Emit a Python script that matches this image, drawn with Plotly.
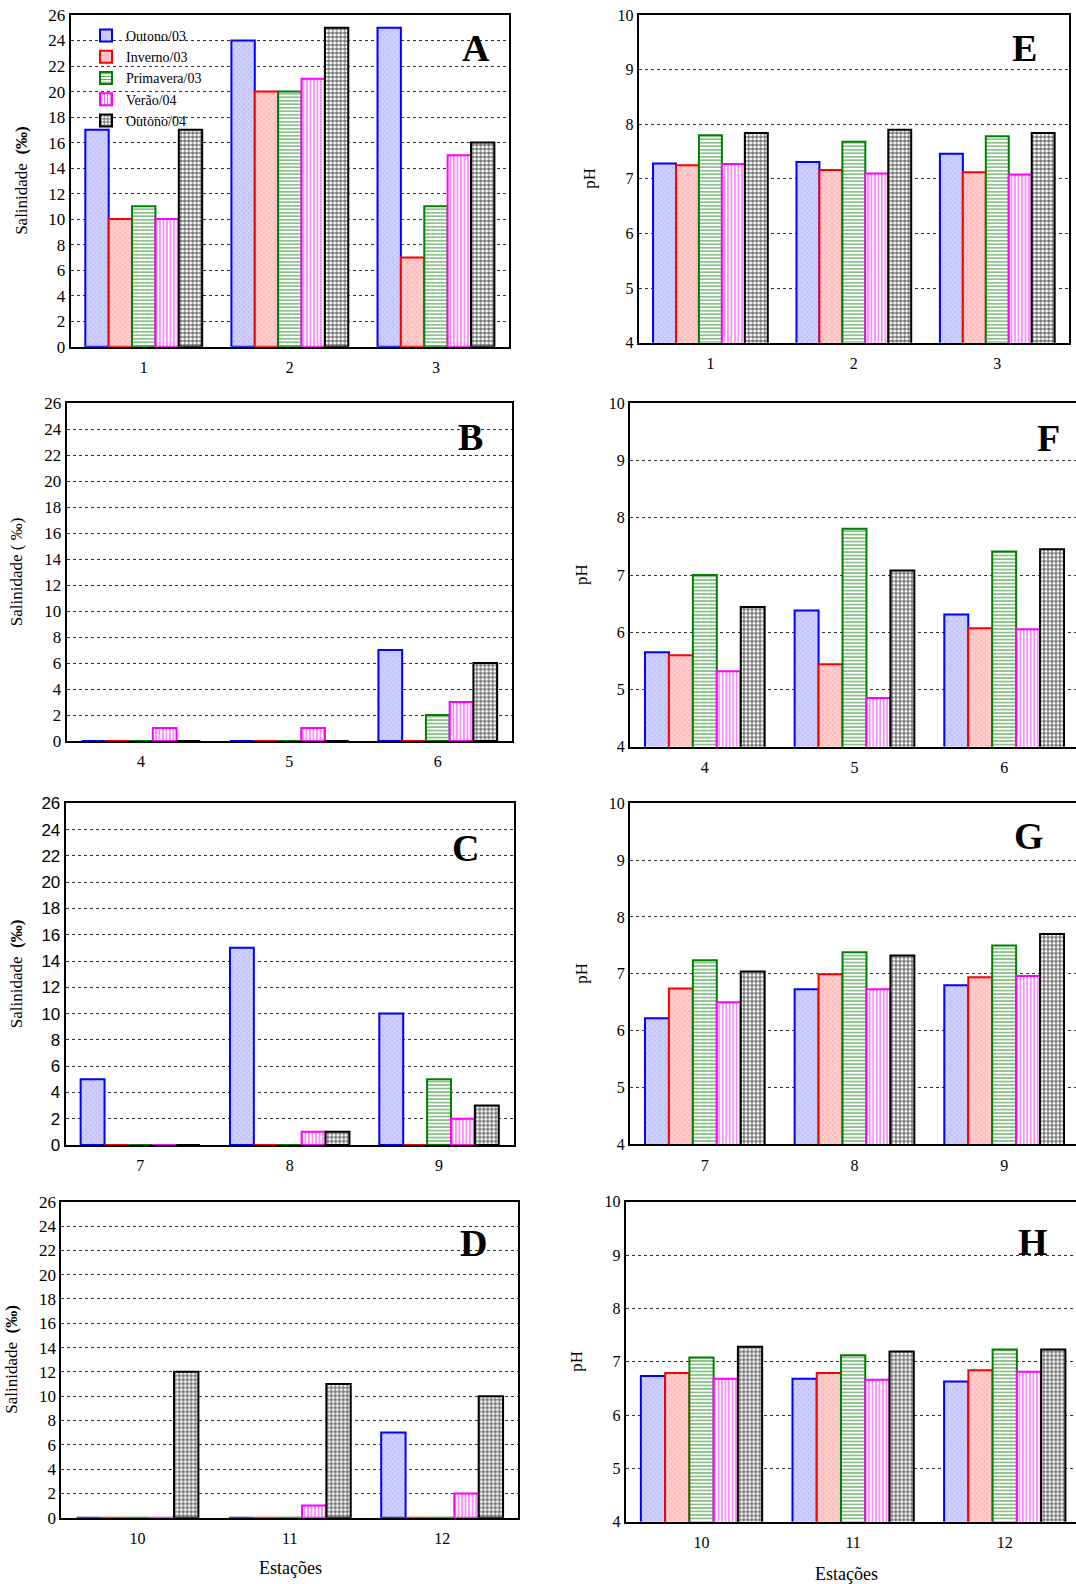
import plotly.graph_objects as go

seasons = ["Outono/03", "Inverno/03", "Primavera/03", "Verão/04", "Outono/04"]

st_A = ["1", "2", "3"]
st_B = ["4", "5", "6"]
st_C = ["7", "8", "9"]
st_D = ["10", "11", "12"]

# Salinity (‰), one list per season (order as `seasons`)
sal_A = [[17, 24, 25], [10, 20, 7], [11, 20, 11], [10, 21, 15], [17, 25, 16]]
sal_B = [[0, 0, 7], [0, 0, 0], [0, 0, 2], [1, 1, 3], [0, 0, 6]]
sal_C = [[5, 15, 10], [0, 0, 0], [0, 0, 5], [0, 1, 2], [0, 1, 3]]
sal_D = [[0, 0, 7], [0, 0, 0], [0, 0, 0], [0, 1, 2], [12, 11, 10]]

# pH
ph_E = [[7.28, 7.31, 7.46], [7.25, 7.16, 7.12], [7.80, 7.68, 7.78], [7.27, 7.10, 7.08], [7.84, 7.90, 7.84]]
ph_F = [[5.65, 6.38, 6.31], [5.60, 5.44, 6.07], [7.00, 7.81, 7.41], [5.32, 4.85, 6.05], [6.44, 7.08, 7.45]]
ph_G = [[6.22, 6.73, 6.80], [6.74, 6.99, 6.94], [7.24, 7.38, 7.50], [6.50, 6.73, 6.96], [7.04, 7.32, 7.70]]
ph_H = [[6.73, 6.68, 6.63], [6.79, 6.79, 6.84], [7.08, 7.12, 7.23], [6.68, 6.66, 6.81], [7.28, 7.19, 7.23]]

sal_ticks = list(range(0, 27, 2))
ph_ticks = list(range(4, 11))

styles = [
    dict(line="#0000ff", shape="x", fg="#a8a8ff", bg="#d2d2ff", size=3.5, sol=0.25),
    dict(line="#ff0000", shape="x", fg="#ff9a9a", bg="#ffd0d0", size=3.5, sol=0.25),
    dict(line="#008000", shape="-", fg="#3a9a3a", bg="#ffffff", size=3.5, sol=0.3),
    dict(line="#ff00ff", shape="|", fg="#ff40ff", bg="#ffffff", size=3.5, sol=0.3),
    dict(line="#000000", shape="+", fg="#202020", bg="#ffffff", size=4, sol=0.35),
]

W, H = 1076, 1584
SERIF = "Liberation Serif"

panels = [
    dict(letter="A", st=st_A, data=sal_A, kind="sal", x0=70.7, x1=509, t=15, b=346.7, xmax=2.5, lx=476, ly=48, tf=SERIF, ttl_x=22, ttl="Salinidade  <b>(‰)</b>"),
    dict(letter="E", st=st_A, data=ph_E, kind="ph", x0=638.7, x1=1069, t=15, b=342.7, xmax=2.5, lx=1024, ly=48, tf=SERIF, ttl_x=590, ttl="pH"),
    dict(letter="B", st=st_B, data=sal_B, kind="sal", x0=66.7, x1=512, t=403.3, b=741, xmax=2.5, lx=470, ly=437, tf=SERIF, ttl_x=16, ttl="Salinidade ( ‰)"),
    dict(letter="F", st=st_B, data=ph_F, kind="ph", x0=630, x1=1076, t=403.3, b=746.7, xmax=2.48, lx=1048, ly=438, tf=SERIF, ttl_x=581, ttl="pH"),
    dict(letter="C", st=st_C, data=sal_C, kind="sal", x0=65.7, x1=513.7, t=803.3, b=1145, xmax=2.5, lx=465, ly=848, tf="Liberation Sans", ttl_x=16, ttl="Salinidade  <b>(‰)</b>"),
    dict(letter="G", st=st_C, data=ph_G, kind="ph", x0=630, x1=1076, t=803.3, b=1144.3, xmax=2.48, lx=1029, ly=836, tf=SERIF, ttl_x=582, ttl="pH"),
    dict(letter="D", st=st_D, data=sal_D, kind="sal", x0=61.3, x1=518.3, t=1201.7, b=1517.7, xmax=2.5, lx=473, ly=1243, tf=SERIF, ttl_x=12, ttl="Salinidade  <b>(‰)</b>"),
    dict(letter="H", st=st_D, data=ph_H, kind="ph", x0=625.7, x1=1076, t=1201.7, b=1521.7, xmax=2.47, lx=1033, ly=1242, tf=SERIF, ttl_x=577, ttl="pH"),
]

fig = go.Figure()
annotations = []
layout = {}

for i, p in enumerate(panels):
    n = "" if i == 0 else str(i + 1)
    xa, ya = "x" + n, "y" + n
    for s, (name, vals) in enumerate(zip(seasons, p["data"])):
        st = styles[s]
        fig.add_trace(go.Bar(
            x=p["st"], y=vals, name=name, xaxis=xa, yaxis=ya,
            showlegend=(i == 0),
            marker=dict(
                color=st["bg"],
                line=dict(color=st["line"], width=2),
                pattern=dict(shape=st["shape"], fgcolor=st["fg"], bgcolor=st["bg"],
                             size=st["size"], solidity=st["sol"], fillmode="replace"),
            ),
        ))
    right_cut = p["x1"] >= 1076
    xdom = [p["x0"] / W, min(p["x1"] / W, 1.0)]
    ydom = [1 - p["b"] / H, 1 - p["t"] / H]
    if p["kind"] == "sal":
        yr, tv = [0, 26], sal_ticks
    else:
        yr, tv = [4, 10], ph_ticks
    layout["xaxis" + n] = dict(
        domain=xdom, anchor=ya, type="category", range=[-0.5, p["xmax"]],
        showline=True, linecolor="black", linewidth=2, mirror=True,
        showgrid=False, ticks="", tickfont=dict(family=SERIF, size=16, color="black"),
        ticklabelstandoff=5, automargin=False, fixedrange=True,
    )
    layout["yaxis" + n] = dict(
        domain=ydom, anchor=xa, range=yr, tickvals=tv,
        showline=True, linecolor="black", linewidth=2, mirror=(not right_cut),
        showgrid=True, gridcolor="#333333", gridwidth=1, griddash="dot",
        zeroline=False, ticks="",
        tickfont=dict(family=p["tf"], size=(17 if p["kind"] == "sal" else 16), color="black"),
        automargin=False, fixedrange=True,
    )
    annotations.append(dict(
        text="<b>" + p["letter"] + "</b>", x=p["lx"] / W, y=1 - p["ly"] / H, xref="paper", yref="paper",
        showarrow=False, font=dict(family=SERIF, size=38, color="black"),
        xanchor="center", yanchor="middle",
    ))
    annotations.append(dict(
        text=p["ttl"], x=p["ttl_x"] / W, y=1 - (p["t"] + p["b"]) / 2 / H, xref="paper", yref="paper",
        showarrow=False, textangle=-90, font=dict(family=SERIF, size=17, color="black"),
        xanchor="center", yanchor="middle",
    ))

annotations.append(dict(text="Estações", x=290 / W, y=1 - 1568 / H, xref="paper", yref="paper",
                        showarrow=False, font=dict(family=SERIF, size=18, color="black"),
                        xanchor="center", yanchor="middle"))
annotations.append(dict(text="Estações", x=846 / W, y=1 - 1574 / H, xref="paper", yref="paper",
                        showarrow=False, font=dict(family=SERIF, size=18, color="black"),
                        xanchor="center", yanchor="middle"))

fig.update_layout(
    width=W, height=H, margin=dict(l=0, r=0, t=0, b=0, autoexpand=False),
    paper_bgcolor="white", plot_bgcolor="white",
    barmode="group", bargap=0.2, bargroupgap=0,
    font=dict(family=SERIF, color="black"),
    annotations=annotations,
    legend=dict(x=86 / W, y=1 - 20 / H, xanchor="left", yanchor="top",
                bgcolor="rgba(0,0,0,0)", font=dict(family=SERIF, size=14, color="black"),
                tracegroupgap=0, itemwidth=30),
    **layout,
)

fig.write_html("out.html")
